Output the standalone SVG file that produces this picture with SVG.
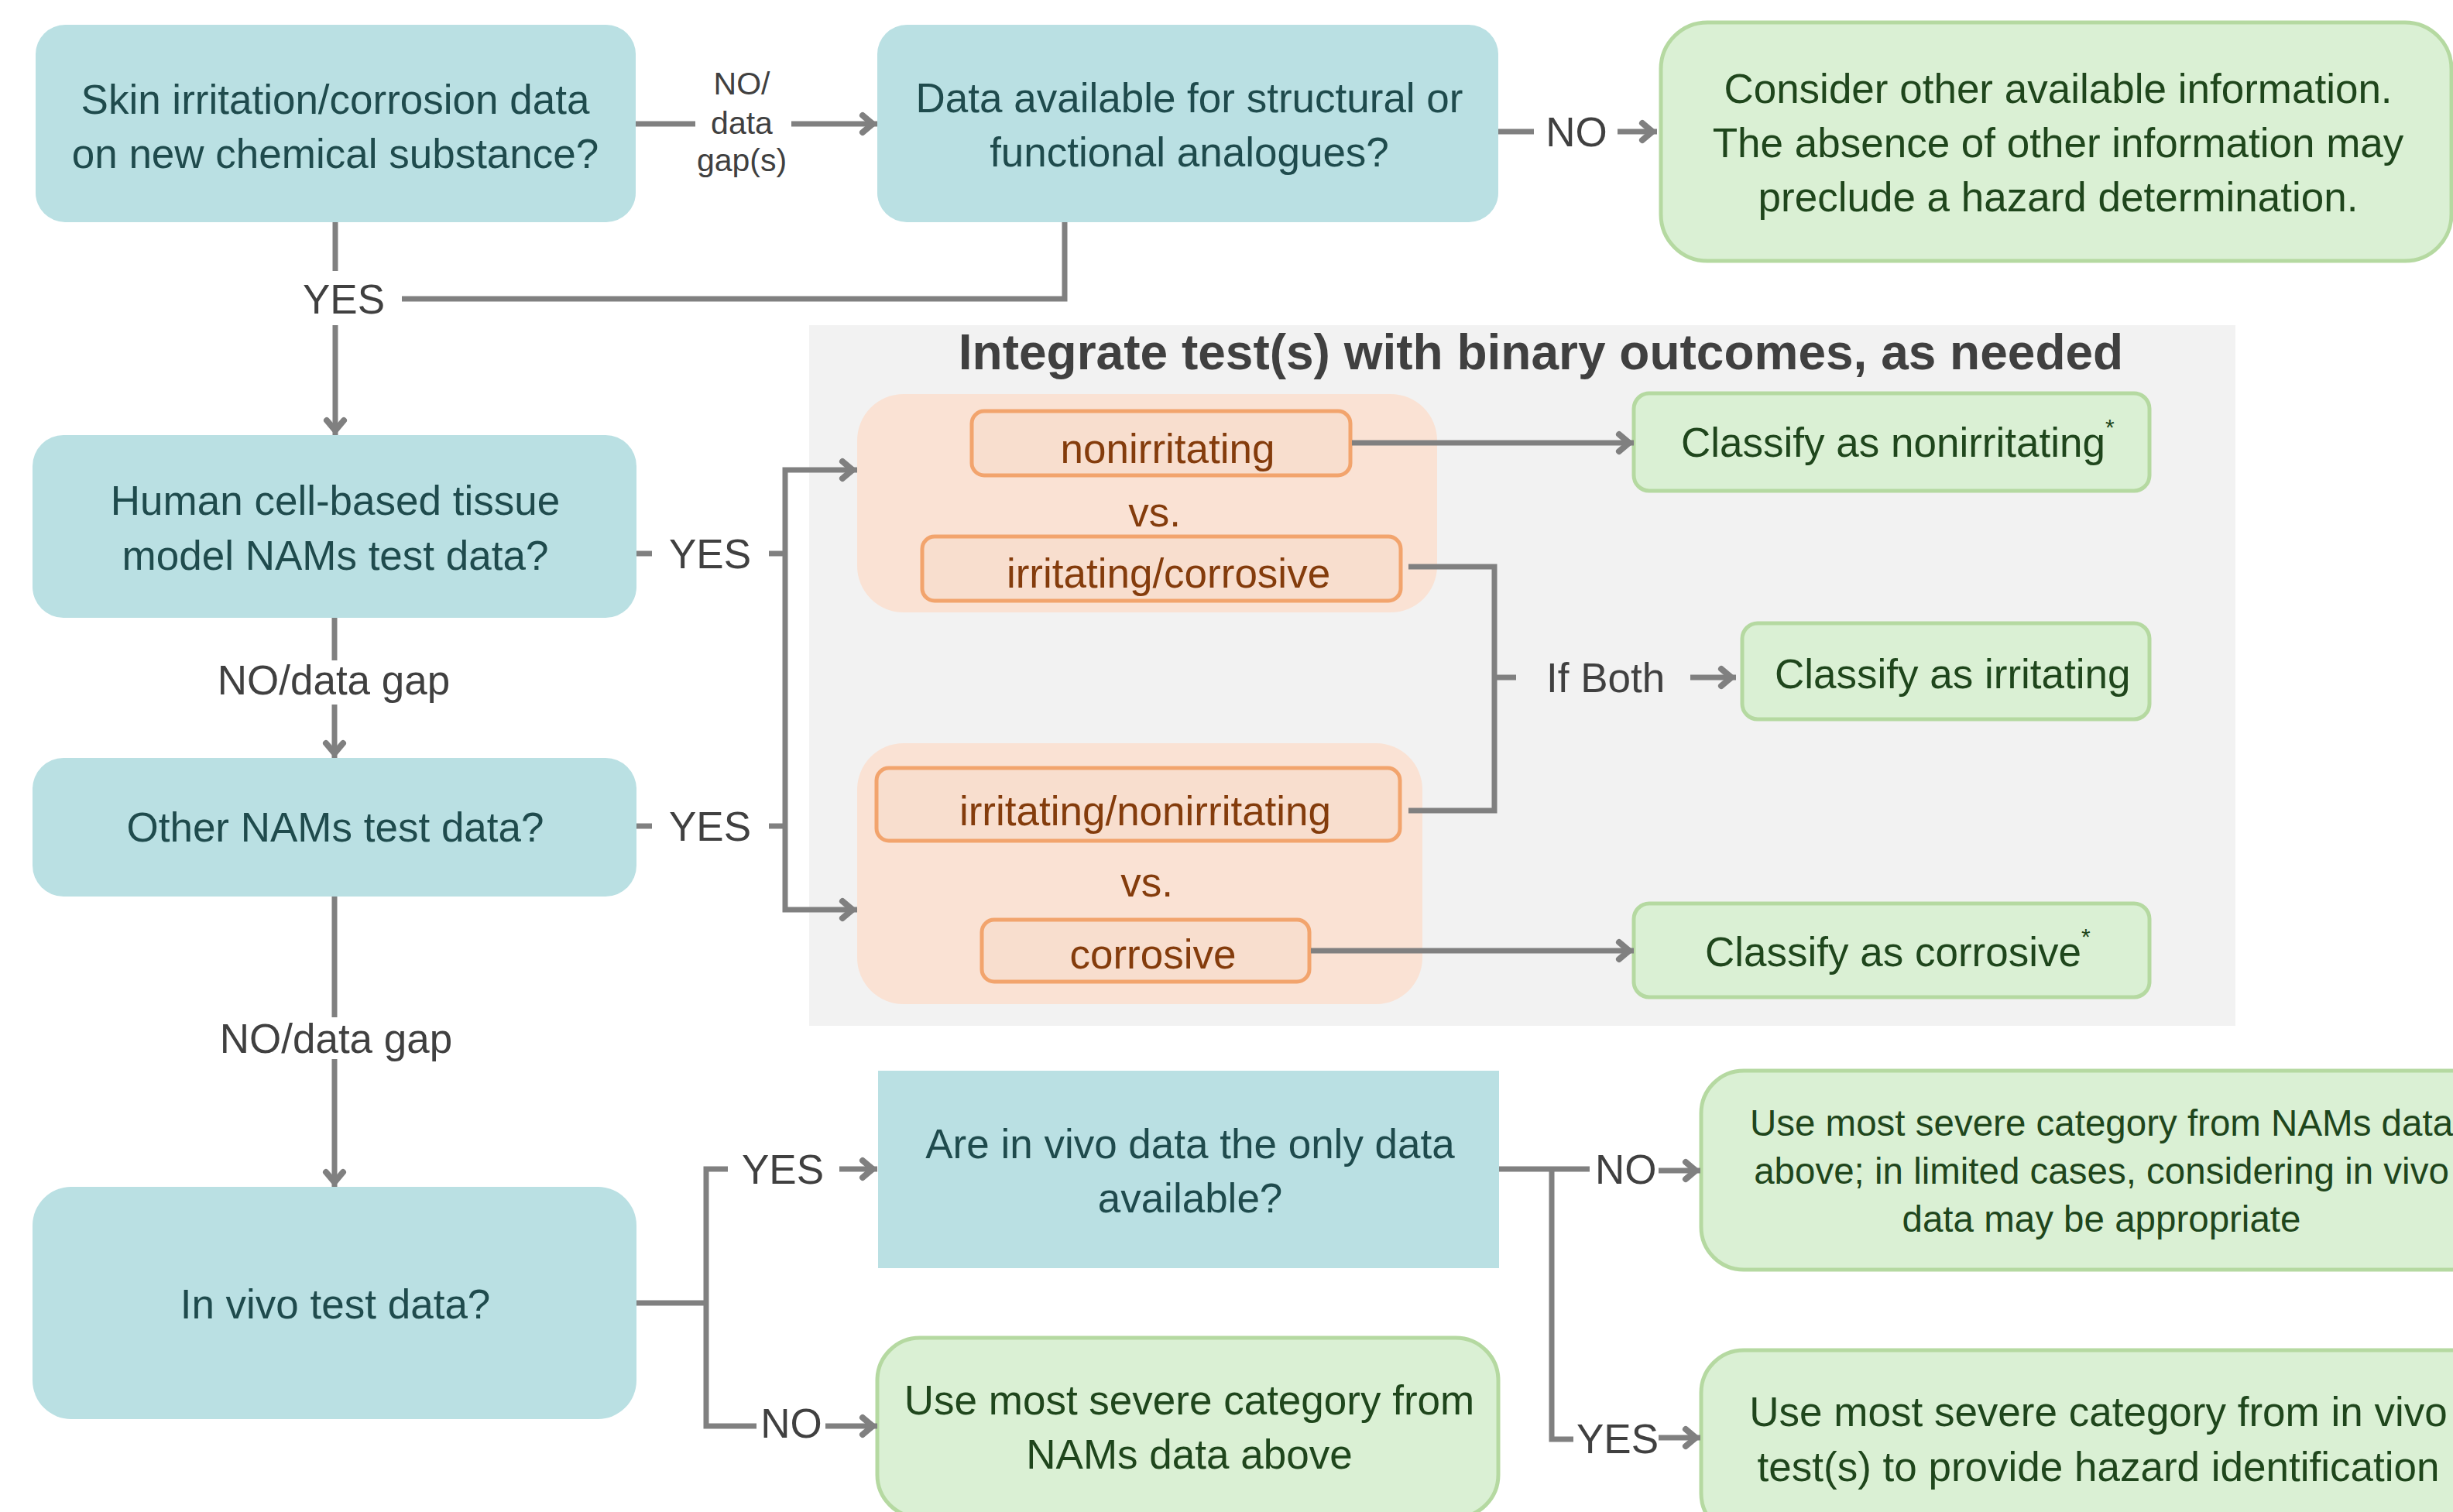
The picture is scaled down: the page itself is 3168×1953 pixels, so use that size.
<svg xmlns="http://www.w3.org/2000/svg" width="3168" height="1953" viewBox="0 0 3168 1953">
<style>
.teal{fill:#BAE0E3}
.green{fill:#DAF0D4;stroke:#B5D9A1;stroke-width:5}
.grp{fill:#FAE2D4}
.ob{fill:#F8DECE;stroke:#F2A46D;stroke-width:5}
.t{font-family:"Liberation Sans",Arial,sans-serif;font-size:53px;text-anchor:middle}
.s{text-anchor:start}
.tt{fill:#1F4B4D}
.tg{fill:#1F461C}
.to{fill:#843C0C}
.lbl{fill:#404040}
.c{stroke:#808080;stroke-width:7;fill:none}
</style>
<defs>
<marker id="ah" markerUnits="userSpaceOnUse" markerWidth="50" markerHeight="50" viewBox="-25 -25 50 50" refX="0" refY="0" orient="auto" overflow="visible">
<path d="M-19,-11 L-6,0 L-19,11" fill="none" stroke="#808080" stroke-width="8" stroke-linecap="round" stroke-linejoin="miter" stroke-miterlimit="6"/>
</marker>
</defs>
<rect width="3168" height="1953" fill="#FFFFFF"/>
<g id="panel">
<rect x="1045" y="420" width="1842" height="905" fill="#F2F2F2"/>
<text class="t" x="1990" y="477" style="font-weight:bold;font-size:64px" fill="#404040">Integrate test(s) with binary outcomes, as needed</text>
</g>
<g id="nodeA">
<rect class="teal" x="46" y="32" width="775" height="255" rx="38"/>
<text class="t tt" x="433" y="147">Skin irritation/corrosion data</text>
<text class="t tt" x="433" y="217">on new chemical substance?</text>
</g>
<g id="nodeB">
<rect class="teal" x="1133" y="32" width="802" height="255" rx="38"/>
<text class="t tt" x="1536" y="145">Data available for structural or</text>
<text class="t tt" x="1536" y="215">functional analogues?</text>
</g>
<g id="nodeC">
<rect class="green" x="2145" y="29" width="1021" height="308" rx="60"/>
<text class="t tg" x="2658" y="133">Consider other available information.</text>
<text class="t tg" x="2658" y="203">The absence of other information may</text>
<text class="t tg" x="2658" y="273">preclude a hazard determination.</text>
</g>
<g id="nodeD">
<rect class="teal" x="42" y="562" width="780" height="236" rx="40"/>
<text class="t tt" x="433" y="665">Human cell-based tissue</text>
<text class="t tt" x="433" y="736">model NAMs test data?</text>
</g>
<g id="nodeE">
<rect class="teal" x="42" y="979" width="780" height="179" rx="40"/>
<text class="t tt" x="433" y="1087">Other NAMs test data?</text>
</g>
<g id="nodeF">
<rect class="teal" x="42" y="1533" width="780" height="300" rx="50"/>
<text class="t tt" x="433" y="1703">In vivo test data?</text>
</g>
<g id="group1">
<rect class="grp" x="1107" y="509" width="749" height="282" rx="60"/>
<rect class="ob" x="1255" y="531" width="489" height="83" rx="16"/>
<text class="t to" x="1508" y="598">nonirritating</text>
<text class="t to" x="1491" y="680">vs.</text>
<rect class="ob" x="1191" y="693" width="618" height="83" rx="16"/>
<text class="t to" x="1509" y="759">irritating/corrosive</text>
</g>
<g id="group2">
<rect class="grp" x="1107" y="960" width="730" height="337" rx="60"/>
<rect class="ob" x="1132" y="992" width="676" height="94" rx="16"/>
<text class="t to" x="1479" y="1066">irritating/nonirritating</text>
<text class="t to" x="1481" y="1158">vs.</text>
<rect class="ob" x="1268" y="1188" width="423" height="80" rx="16"/>
<text class="t to" x="1489" y="1251">corrosive</text>
</g>
<g id="classNonirritating">
<rect class="green" x="2110" y="508" width="666" height="126" rx="20"/>
<text class="t tg s" x="2171" y="590">Classify as nonirritating<tspan style="font-size:30px" dy="-28">*</tspan></text>
</g>
<g id="classIrritating">
<rect class="green" x="2250" y="805" width="526" height="124" rx="20"/>
<text class="t tg s" x="2292" y="889">Classify as irritating</text>
</g>
<g id="classCorrosive">
<rect class="green" x="2110" y="1167" width="666" height="121" rx="20"/>
<text class="t tg s" x="2202" y="1248">Classify as corrosive<tspan style="font-size:30px" dy="-28">*</tspan></text>
</g>
<g id="nodeG">
<rect class="teal" x="1134" y="1383" width="802" height="255"/>
<text class="t tt" x="1537" y="1496">Are in vivo data the only data</text>
<text class="t tt" x="1537" y="1566">available?</text>
</g>
<g id="nodeH">
<rect class="green" x="1133" y="1728" width="802" height="232" rx="55"/>
<text class="t tg" x="1536" y="1827">Use most severe category from</text>
<text class="t tg" x="1536" y="1897">NAMs data above</text>
</g>
<g id="nodeI">
<rect class="green" x="2197" y="1383" width="1060" height="257" rx="55"/>
<text class="t tg" x="2714" y="1467" style="font-size:47.5px">Use most severe category from NAMs data</text>
<text class="t tg" x="2714" y="1529" style="font-size:47.5px">above; in limited cases, considering in vivo</text>
<text class="t tg" x="2714" y="1591" style="font-size:47.5px">data may be appropriate</text>
</g>
<g id="nodeJ">
<rect class="green" x="2197" y="1744" width="1030" height="240" rx="55"/>
<text class="t tg" x="2710" y="1842">Use most severe category from in vivo</text>
<text class="t tg" x="2710" y="1913">test(s) to provide hazard identification</text>
</g>
<g id="connectors">
<path class="c" d="M821,160 H898"/>
<path class="c" d="M1022,160 H1133" marker-end="url(#ah)"/>
<path class="c" d="M1935,170 H1981"/>
<path class="c" d="M2089,170 H2140" marker-end="url(#ah)"/>
<path class="c" d="M433,287 V350"/>
<path class="c" d="M519,386 H1375 V287"/>
<path class="c" d="M433,420 V562" marker-end="url(#ah)"/>
<path class="c" d="M432,798 V853"/>
<path class="c" d="M432,910 V979" marker-end="url(#ah)"/>
<path class="c" d="M432,1158 V1314"/>
<path class="c" d="M432,1368 V1533" marker-end="url(#ah)"/>
<path class="c" d="M822,715 H842"/>
<path class="c" d="M993,715 H1014"/>
<path class="c" d="M822,1067 H842"/>
<path class="c" d="M993,1067 H1014"/>
<path class="c" d="M1014,891 V607 H1107" marker-end="url(#ah)"/>
<path class="c" d="M1014,891 V1175 H1107" marker-end="url(#ah)"/>
<path class="c" d="M1746,572 H2110" marker-end="url(#ah)"/>
<path class="c" d="M1819,732 H1930 V1047 H1819"/>
<path class="c" d="M1930,875 H1958"/>
<path class="c" d="M2183,875 H2242" marker-end="url(#ah)"/>
<path class="c" d="M1693,1228 H2110" marker-end="url(#ah)"/>
<path class="c" d="M822,1683 H912"/>
<path class="c" d="M940,1510 H912 V1842 H977"/>
<path class="c" d="M1084,1510 H1133" marker-end="url(#ah)"/>
<path class="c" d="M1066,1842 H1133" marker-end="url(#ah)"/>
<path class="c" d="M1936,1510 H2053"/>
<path class="c" d="M2004,1510 V1859 H2032"/>
<path class="c" d="M2142,1512 H2196" marker-end="url(#ah)"/>
<path class="c" d="M2142,1857 H2196" marker-end="url(#ah)"/>
</g>
<g id="labels" class="t lbl">
<text x="958" y="122" style="font-size:41px">NO/</text>
<text x="958" y="173" style="font-size:41px">data</text>
<text x="958" y="221" style="font-size:41px">gap(s)</text>
<text x="2036" y="189">NO</text>
<text x="444" y="405">YES</text>
<text x="431" y="897">NO/data gap</text>
<text x="434" y="1360">NO/data gap</text>
<text x="917" y="734">YES</text>
<text x="917" y="1086">YES</text>
<text class="s" x="1997" y="894">If Both</text>
<text x="1011" y="1529">YES</text>
<text x="1022" y="1857">NO</text>
<text class="s" x="2060" y="1529">NO</text>
<text class="s" x="2036" y="1877">YES</text>
</g>
</svg>
